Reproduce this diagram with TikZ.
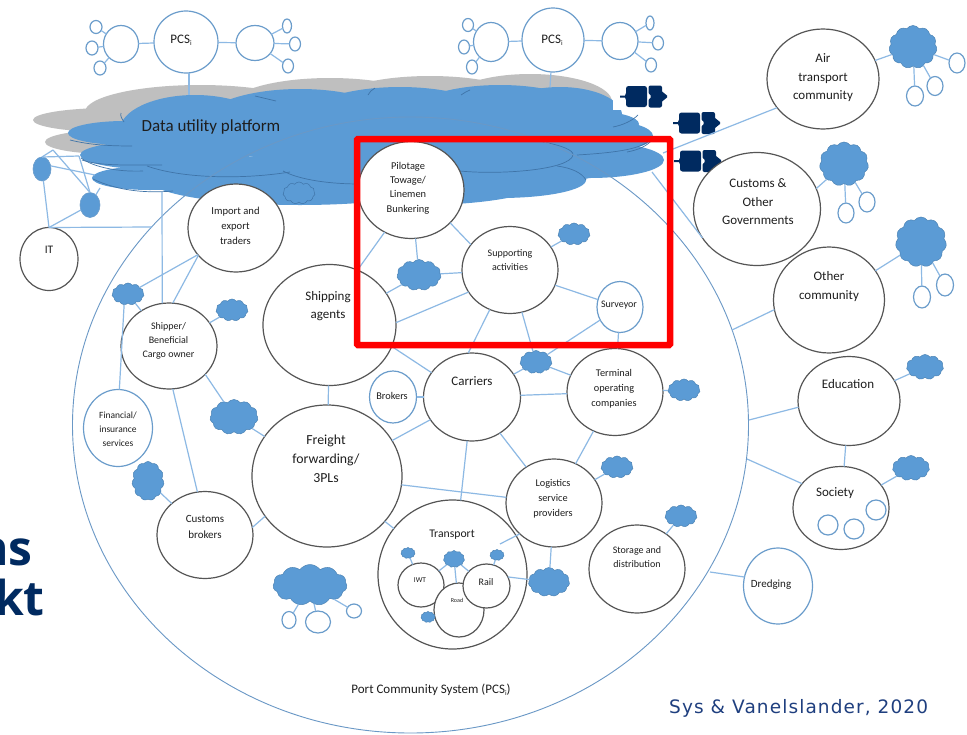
\documentclass[tikz,border=0pt]{standalone}
\usepackage{fontspec}
\setmainfont{Carlito}
\newfontfamily\credfont[LetterSpace=6]{DejaVu Sans}
\newfontfamily\headfont{Open Sans}
\usetikzlibrary{shapes.geometric,shapes.symbols}
\definecolor{linkc}{HTML}{8DB9E4}
\definecolor{bluec}{HTML}{5B9BD5}
\definecolor{edgec}{HTML}{6A9CCB}
\definecolor{seamc}{HTML}{3F74A8}
\definecolor{grayc}{HTML}{BFBFBF}
\definecolor{shipc}{HTML}{002A60}
\definecolor{portc}{HTML}{6A98C6}
\definecolor{darkc}{HTML}{555555}
\definecolor{txtc}{HTML}{1E1E1E}
\definecolor{credc}{HTML}{1F3F7F}
\tikzset{
  x=1pt,y=-1pt,
  base/.style={ellipse,inner sep=0pt,outer sep=0pt},
  actor/.style={base,draw=darkc,line width=1.2pt,fill=white},
  peer/.style={base,draw=edgec,line width=1.2pt,fill=white},
  minor/.style={base,draw=edgec,line width=1.2pt,fill=white},
  dotb/.style={base,draw=edgec,line width=.6pt,fill=bluec},
  puff/.style={cloud,cloud puffs=11,cloud puff arc=110,cloud ignores aspect,inner sep=0pt,outer sep=0pt,draw=bluec!85!black,line width=.5pt,fill=bluec},
  lk/.style={draw=linkc,line width=1.2pt},
  seam/.style={draw=seamc,line width=.7pt},
  lobe/.style={fill=bluec},
  glob/.style={fill=grayc},
}
\newcommand{\myel}[6]{\node[#1,minimum width=#5pt,minimum height=#6pt] (#2) at (#3,#4) {};}
\newcommand{\mytx}[6]{\node[align=center,inner sep=0pt,text=txtc,font=\fontsize{#4}{#5}\selectfont] (#1) at (#2,#3) {#6};}
\newcommand{\mylk}[2]{\draw[lk] (#1) -- (#2);}
\newcommand{\mysub}{\raisebox{-1.6pt}{\fontsize{7}{7}\selectfont i}}
\newcommand{\myship}[3]{%
\begin{scope}[shift={(#2,#3)}]
\fill[shipc,rounded corners=2.5pt] (-17,-10.5) rectangle (4,10.5);
\fill[shipc] (-16,-6) -- (-18,-1) -- (-23,-1) -- (-23,1) -- (-18,1) -- (-16,6) -- cycle;
\fill[shipc,rounded corners=2pt] (5.5,-11) rectangle (19,11);
\fill[shipc] (17,-7) -- (19,-5) -- (24,-1) -- (24,1) -- (19,5) -- (17,7) -- cycle;
\fill[white] (5,-3.5) -- (7.5,-1) -- (7.5,1) -- (5,3.5) -- cycle;
\end{scope}}
\begin{document}
\begin{tikzpicture}
\useasboundingbox (0,0) rectangle (967,734);
\fill[white] (0,0) rectangle (967,734);
% gray platform
\foreach \cx/\cy/\rx/\ry in {110/120/77/12,110/142/65/12,200/112/115/27,330/106/100/28,430/104/100/28,530/102/82/28}
  \fill[glob] (\cx,\cy) ellipse[x radius=\rx,y radius=\ry];
% blue platform
\foreach \cx/\cy/\rx/\ry in {125/133/57/12,195/130/75/35,300/125/100/36,400/122/100/35,500/122/100/37,560/115/62/28,590/124/49/13,600/136/53/16,590/160/74/18,500/180/86/18,165/155/85/15,150/178/58/12,300/180/150/25,420/178/130/27,520/160/100/25}
  \fill[lobe] (\cx,\cy) ellipse[x radius=\rx,y radius=\ry];
\fill[white] (613,92) rectangle (645,110);
\draw[seam] (124,122) .. controls (122,119) and (120,116) .. (121,113);
\draw[seam] (70,140) .. controls (90,145) and (110,146) .. (132,146);
\draw[seam] (81,158) .. controls (95,168) and (120,172) .. (143,171);
\draw[seam] (82,160) .. controls (100,166) and (125,165) .. (162,165);
\draw[seam] (147,166) .. controls (180,178) and (240,180) .. (290,172);
\draw[seam] (283,171) .. controls (300,180) and (330,184) .. (360,184);
\draw[seam] (93,179) .. controls (120,192) and (150,193) .. (173,191);
\draw[seam] (255,96) -- (276,101);
\draw[seam] (368,95) .. controls (369,92) and (372,90) .. (375,88);
\draw[seam] (461,95) .. controls (464,93) and (467,91) .. (470,90);
\draw[seam] (613,127) .. controls (623,125) and (632,121) .. (638,115);
\draw[seam] (627,152) .. controls (638,150) and (647,146) .. (652,140);
\draw[seam] (460,171) .. controls (500,175) and (570,170) .. (573,155) .. controls (574,150) and (560,145) .. (543,142);
\draw[seam] (577,155) .. controls (610,153) and (640,150) .. (650,140);
\draw[seam] (557,166) .. controls (572,168) and (582,173) .. (586,180);
% port community system
\node[base,draw=portc,line width=.9pt,minimum width=676pt,minimum height=616pt] (port) at (410.5,425) {};
% ships
\myship{a}{643}{96.5}
\myship{b}{696}{123}
\myship{c}{697}{161}
% free ends of connectors
\coordinate (platA) at (189,95);
\coordinate (platB) at (550,87);
\coordinate (platC) at (663,153);
\coordinate (platD) at (652,172);
\coordinate (platE) at (162,192);
\coordinate (netA) at (53,150);
\coordinate (netB) at (79,156);
\coordinate (netC) at (95,175);
\coordinate (netD) at (100,188);
\coordinate (netE) at (152,227);
\coordinate (rimA) at (710,572);
\coordinate (rimB) at (747,459);
\coordinate (rimC) at (749,420);
\coordinate (rimD) at (732,330);
\coordinate (logEnd) at (500,544);
% PCS groups
\myel{peer}{pcsA}{186}{42}{64}{62}
\myel{peer}{pcsAl}{121}{44}{35}{37}
\myel{peer}{pcsAr}{255}{43}{38}{35}
\myel{minor}{aA}{96}{27}{12}{13}
\myel{minor}{aB}{92}{48}{12}{14}
\myel{minor}{aC}{100}{68}{12}{14}
\myel{minor}{aD}{287}{26}{9}{14}
\myel{minor}{aE}{295}{44}{11}{14}
\myel{minor}{aF}{288}{66}{11}{14}
\myel{peer}{pcsB}{553}{40}{62}{64}
\myel{peer}{pcsBl}{491}{42}{35}{39}
\myel{peer}{pcsBr}{620}{41}{36}{37}
\myel{minor}{bA}{468}{25}{11}{13}
\myel{minor}{bB}{464}{47}{11}{14}
\myel{minor}{bC}{472}{67}{11}{14}
\myel{minor}{bD}{650}{23}{8}{14}
\myel{minor}{bE}{658}{43}{11}{14}
\myel{minor}{bF}{651}{65}{11}{14}
% left small network
\myel{dotb}{dotA}{42}{169}{18}{24}
\myel{dotb}{dotB}{90}{205}{20}{25}
% actors
\myel{actor}{pilot}{411}{190}{106}{97}
\myel{actor}{importer}{236}{228}{96}{88}
\myel{actor}{it}{49}{259}{58}{63}
\myel{actor}{shipping}{329.5}{325}{133}{121}
\myel{actor}{support}{510}{270}{96}{87}
\myel{peer}{survey}{620}{307}{46}{51}
\myel{actor}{shipper}{169}{346}{96}{86}
\myel{peer}{finance}{118}{428}{69}{77}
\myel{actor}{cbrokers}{205}{535}{96}{87}
\myel{actor}{freight}{327}{476}{150}{142}
\myel{peer}{brokers}{393}{397}{47}{52}
\myel{actor}{carriers}{472}{397}{97}{88}
\myel{actor}{terminal}{615}{392}{96}{87}
\myel{actor}{logistics}{554}{503}{96}{88}
\myel{actor}{transport}{452.5}{574.5}{149}{149}
\myel{actor}{iwt}{421}{585}{46}{44}
\myel{actor}{road}{459}{610}{50}{54}
\myel{actor}{rail}{486.5}{586}{47}{44}
\myel{actor}{storage}{637}{569}{96}{88}
\myel{peer}{dredging}{778}{586}{69}{76}
\myel{actor}{air}{823}{79}{112}{100}
\myel{actor}{customs}{757}{209}{127}{113}
\myel{actor}{other}{829}{300}{111}{106}
\myel{actor}{education}{849}{401}{102}{89}
\myel{actor}{society}{841}{508}{96}{83}
\myel{minor}{socA}{828}{525}{20}{20}
\myel{minor}{socB}{854}{529}{20}{20}
\myel{minor}{socC}{876}{510}{20}{20}
% clouds
\myel{puff,draw=seamc}{clPlat}{299}{193}{32}{22}
\myel{puff}{clSupp}{574}{234}{32}{22}
\myel{puff}{clPilot}{419}{275}{44}{31}
\myel{puff}{clShipA}{128}{294}{32}{22}
\myel{puff}{clShipB}{232}{310}{32}{22}
\myel{puff}{clFreight}{234}{417}{48}{35}
\myel{puff}{clCust}{148}{481}{32}{39}
\myel{puff}{clBottom}{310}{585}{74}{41}
\myel{minor}{btA}{289}{620}{14}{17}
\myel{minor}{btB}{318}{622}{25}{22}
\myel{minor}{btC}{354}{611}{15}{14}
\myel{puff}{clCarr}{536}{362}{32}{23}
\myel{puff}{clTerm}{684}{390}{32}{22}
\myel{puff}{clLog}{617}{467}{32}{22}
\myel{puff}{clStor}{681}{516}{32}{22}
\myel{puff}{clTrans}{549}{582}{41}{29}
\myel{puff}{clRail}{497}{555}{14}{11}
\myel{puff}{clMid}{454}{559}{21}{17}
\myel{puff}{clIwt}{408}{553}{14}{11}
\myel{puff}{clRoad}{428}{617}{14}{11}
\myel{puff}{clAir}{913}{47}{48}{43}
\myel{minor}{arA}{957}{63}{16}{20}
\myel{minor}{arB}{935}{86}{16}{19}
\myel{minor}{arC}{915}{96}{17}{20}
\myel{puff}{clGov}{844}{164}{49}{44}
\myel{minor}{gvA}{867}{202}{16}{20}
\myel{minor}{gvB}{846}{213}{16}{20}
\myel{puff}{clOther}{921}{242}{51}{50}
\myel{minor}{otA}{945}{285}{17}{22}
\myel{minor}{otB}{922}{297}{17}{22}
\myel{puff}{clEdu}{925}{367}{37}{25}
\myel{puff}{clSoc}{911}{468}{37}{25}
% connectors: PCS groups
\mylk{pcsA}{pcsAl}
\mylk{pcsA}{pcsAr}
\mylk{pcsAl}{aA}
\mylk{pcsAl}{aB}
\mylk{pcsAl}{aC}
\mylk{pcsAr}{aD}
\mylk{pcsAr}{aE}
\mylk{pcsAr}{aF}
\mylk{pcsB}{pcsBl}
\mylk{pcsB}{pcsBr}
\mylk{pcsBl}{bA}
\mylk{pcsBl}{bB}
\mylk{pcsBl}{bC}
\mylk{pcsBr}{bD}
\mylk{pcsBr}{bE}
\mylk{pcsBr}{bF}
\draw[lk] (pcsA.south) ++(3,0) -- (platA);
\mylk{pcsB}{platB}
\mylk{platC}{air.212}
\mylk{platD}{customs.208}
% left network
\mylk{dotA.north}{netA}
\mylk{netA}{dotB.north}
\mylk{dotA.north}{netB}
\mylk{netB}{dotB.north}
\mylk{dotA.20}{netC}
\mylk{dotB.60}{netD}
\mylk{it.north}{dotA}
\mylk{it.north}{dotB}
\mylk{it.north}{netE}
\mylk{platE}{shipper.99}
% inside port
\mylk{importer.215}{clShipA}
\mylk{importer.216}{shipper.85}
\mylk{clShipA}{shipper}
\mylk{clShipA.250}{finance.88}
\mylk{shipper}{clShipB}
\mylk{shipper.-38}{clFreight}
\mylk{clFreight}{freight}
\mylk{shipper.-85}{cbrokers.100}
\mylk{clCust}{cbrokers}
\mylk{cbrokers.9}{freight.213}
\mylk{shipping}{freight}
\mylk{shipping.2}{support.208}
\mylk{shipping.63}{pilot.238}
\mylk{pilot}{clPilot}
\mylk{pilot.-40}{support.147}
\mylk{clPilot}{support}
\mylk{clPilot}{shipping}
\mylk{support}{clSupp}
\mylk{support}{survey}
\mylk{support.243}{carriers.95}
\mylk{support}{clCarr}
\mylk{survey}{terminal}
\mylk{survey}{clCarr}
\mylk{clCarr}{carriers}
\mylk{clCarr}{terminal}
\mylk{shipping.-19}{carriers.149}
\mylk{brokers}{carriers}
\mylk{freight}{carriers}
\mylk{carriers}{terminal}
\mylk{carriers}{logistics}
\mylk{carriers}{transport}
\mylk{freight}{logistics}
\mylk{freight}{transport}
\mylk{terminal}{logistics}
\mylk{terminal}{clTerm}
\mylk{logistics}{clLog}
\mylk{logistics.222}{logEnd}
\mylk{logistics}{clTrans}
\mylk{rail.23}{clTrans}
\mylk{rail}{clRail}
\mylk{clMid}{iwt}
\mylk{clMid}{road}
\mylk{clMid}{rail}
\mylk{iwt}{clIwt}
\mylk{road}{clRoad}
\mylk{clBottom}{btA}
\mylk{clBottom}{btB}
\mylk{clBottom}{btC}
\mylk{storage}{clStor}
% outside port
\mylk{rimA}{dredging.165}
\mylk{rimB}{society.148}
\mylk{rimC}{education.187}
\mylk{rimD}{other.190}
\mylk{education}{society}
\mylk{education}{clEdu}
\mylk{society}{clSoc}
\mylk{customs.19}{clGov}
\mylk{clGov}{gvA}
\mylk{clGov}{gvB}
\mylk{air}{clAir}
\mylk{clAir}{arA}
\mylk{clAir}{arB}
\mylk{clAir}{arC}
\mylk{other}{clOther}
\mylk{clOther}{otA}
\mylk{clOther}{otB}
% highlight
\node[draw=red,line width=6.5pt,rounded corners=1pt,minimum width=313pt,minimum height=206pt,inner sep=0pt] (focus) at (513.5,242) {};
% texts
\mytx{tA}{181}{40}{13}{15}{PCS\mysub}
\mytx{tB}{552}{40}{13}{15}{PCS\mysub}
\mytx{tPlat}{211}{127}{17}{20}{Data utility platform}
\mytx{tPilot}{408}{188}{10.4}{14.2}{Pilotage\\Towage/\\Linemen\\Bunkering}
\mytx{tImp}{235.5}{225.5}{10.6}{15}{Import and\\export\\traders}
\mytx{tIt}{49}{250}{11.5}{14}{IT}
\mytx{tShip}{328}{306}{13}{18}{Shipping\\agents}
\mytx{tSup}{510}{260}{10}{14}{Supporting\\activities}
\mytx{tSur}{619}{305}{10}{12}{Surveyor}
\mytx{tShpr}{168.5}{341}{10}{13.7}{Shipper/\\Beneficial\\Cargo owner}
\mytx{tFin}{118}{429}{9.5}{14}{Financial/\\insurance\\services}
\mytx{tCb}{205}{527}{11}{15.2}{Customs\\brokers}
\mytx{tFre}{326}{459}{13.8}{19}{Freight\\forwarding/\\3PLs}
\mytx{tBro}{392}{396}{10.3}{12}{Brokers}
\mytx{tCar}{472}{381}{13}{14}{Carriers}
\mytx{tTer}{614}{389}{10.3}{15}{Terminal\\operating\\companies}
\mytx{tLog}{553}{499}{10.3}{15}{Logistics\\service\\providers}
\mytx{tTra}{452}{535}{11.7}{13}{Transport}
\mytx{tIwt}{420}{580}{7.5}{9}{IWT}
\mytx{tRoa}{457}{600}{6}{8}{Road}
\mytx{tRai}{486}{582}{10}{11}{Rail}
\mytx{tSto}{637}{557}{10}{13.6}{Storage and\\distribution}
\mytx{tDre}{771}{585}{11}{13}{Dredging}
\mytx{tAir}{823}{78}{13}{18.5}{Air\\transport\\community}
\mytx{tGov}{758}{202}{13}{18.5}{Customs \&\\Other\\Governments}
\mytx{tOth}{829}{287}{13}{19}{Other\\community}
\mytx{tEdu}{848}{384}{13}{15}{Education}
\mytx{tSoc}{835}{493}{13}{15}{Society}
\mytx{tPort}{431}{690}{13}{15}{Port Community System (PCS\mysub)}
\node[anchor=base west,inner sep=0pt,text=credc,font=\credfont\fontsize{18.5}{20}\selectfont] (cred) at (669,713) {Sys \& Vanelslander, 2020};
\node[anchor=base east,inner sep=0pt,text=shipc,font=\headfont\bfseries\fontsize{48}{50}\selectfont] (headA) at (33,565) {ns};
\node[anchor=base east,inner sep=0pt,text=shipc,font=\headfont\bfseries\fontsize{48}{50}\selectfont] (headB) at (45,615) {rkt};
\end{tikzpicture}
\end{document}
